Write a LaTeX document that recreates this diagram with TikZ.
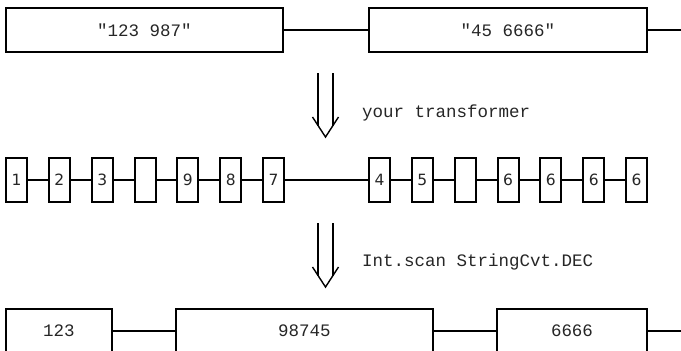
\documentclass[tikz,border=0pt]{standalone}
\usepackage{fontspec}
\newfontfamily\monofont{Liberation Mono}
\newfontfamily\digitfont{DejaVu Sans}
\usepackage{tikz}
\usetikzlibrary{positioning}

\begin{document}
\begin{tikzpicture}[x=1pt,y=-1pt]

\tikzset{word/.style = {shape=rectangle,draw,line width=2pt,inner sep=0pt,minimum height=44pt,font=\monofont\fontsize{17.5}{20}\selectfont,text=black!85}}
\tikzset{cell/.style = {shape=rectangle,draw,line width=2pt,inner sep=0pt,minimum width=21pt,minimum height=44pt,font=\digitfont\fontsize{15.5}{18}\selectfont,text=black!85}}
\tikzset{link/.style = {line width=1.6pt}}
\tikzset{stepline/.style = {line width=1.4pt}}
\tikzset{note/.style = {anchor=base west,inner sep=0pt,font=\monofont\fontsize{17.5}{20}\selectfont,text=black!85}}

\useasboundingbox (0,0) rectangle (681,351);

% strings
\node[word,minimum width=277pt] (s1) at (144.5,30) {"123 987"};
\node[word,minimum width=278pt] (s2) at (508,30) {"45 6666"};
\coordinate (send) at (681,30);

% characters
\node[cell] (c1) at (16.5,180) {1};
\node[cell] (c2) at (59.3,180) {2};
\node[cell] (c3) at (102.2,180) {3};
\node[cell] (c4) at (145,180) {};
\node[cell] (c5) at (187.8,180) {9};
\node[cell] (c6) at (230.7,180) {8};
\node[cell] (c7) at (273.5,180) {7};
\node[cell] (c8) at (379.5,180) {4};
\node[cell] (c9) at (422.3,180) {5};
\node[cell] (c10) at (465.2,180) {};
\node[cell] (c11) at (508,180) {6};
\node[cell] (c12) at (550.8,180) {6};
\node[cell] (c13) at (593.7,180) {6};
\node[cell] (c14) at (636.5,180) {6};

% numbers
\node[word,minimum width=106pt] (n1) at (59,331) {123};
\node[word,minimum width=257pt] (n2) at (304.5,331) {98745};
\node[word,minimum width=150pt] (n3) at (572,331) {6666};
\coordinate (nend) at (681,331);

% steps
\coordinate (a1) at (325.5,73);
\coordinate (a2) at (325.5,223);
\draw[stepline] (a1) ++(-7.5,0) -- ++(0,52.5);
\draw[stepline] (a1) ++(7.5,0) -- ++(0,52.5);
\draw[stepline] (a1) ++(-13,44) -- ++(13,20) -- ++(13,-20);
\draw[stepline] (a2) ++(-7.5,0) -- ++(0,52.5);
\draw[stepline] (a2) ++(7.5,0) -- ++(0,52.5);
\draw[stepline] (a2) ++(-13,44) -- ++(13,20) -- ++(13,-20);
\node[note] (l1) at (362,117) {your transformer};
\node[note] (l2) at (362,266) {Int.scan StringCvt.DEC};

%edges
\draw[link] (s1) to (s2);
\draw[link] (s2) to (send);
\draw[link] (c1) to (c2);
\draw[link] (c2) to (c3);
\draw[link] (c3) to (c4);
\draw[link] (c4) to (c5);
\draw[link] (c5) to (c6);
\draw[link] (c6) to (c7);
\draw[link] (c7) to (c8);
\draw[link] (c8) to (c9);
\draw[link] (c9) to (c10);
\draw[link] (c10) to (c11);
\draw[link] (c11) to (c12);
\draw[link] (c12) to (c13);
\draw[link] (c13) to (c14);
\draw[link] (n1) to (n2);
\draw[link] (n2) to (n3);
\draw[link] (n3) to (nend);
\end{tikzpicture}
\end{document}
